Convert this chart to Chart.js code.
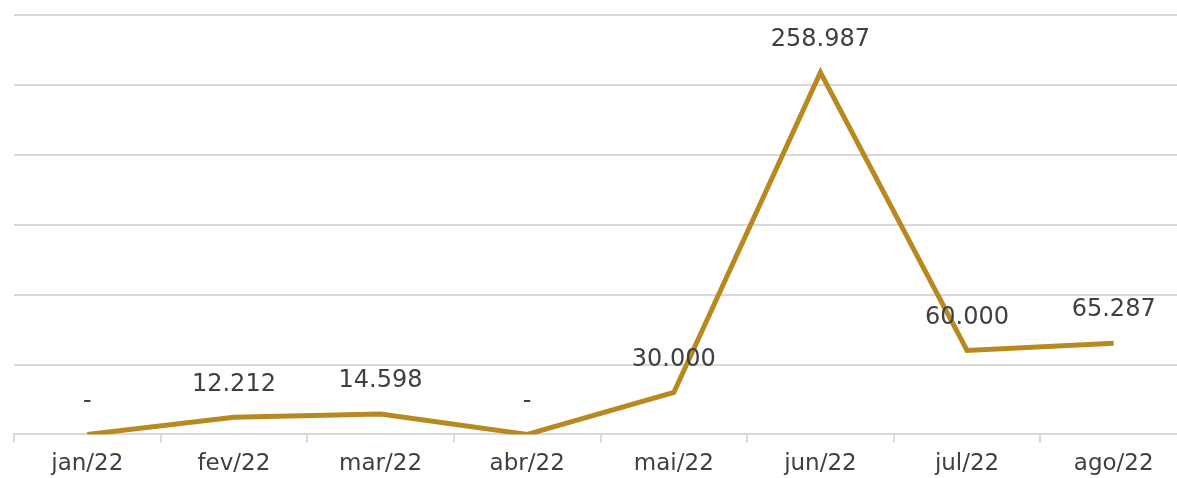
<!DOCTYPE html>
<html><head><meta charset="utf-8">
<script src="https://cdn.jsdelivr.net/npm/chart.js@4/dist/chart.umd.min.js"></script>
<style>
html,body{margin:0;padding:0;background:#fff;overflow:hidden;}
#wrap{position:relative;width:1187px;height:478px;}
</style></head><body>
<div id="wrap"><canvas id="c"></canvas></div>
<script>
const categories = ['jan/22','fev/22','mar/22','abr/22','mai/22','jun/22','jul/22','ago/22'];
const values = [0, 12212, 14598, 0, 30000, 258987, 60000, 65287];
const labels = ['-', '12.212', '14.598', '-', '30.000', '258.987', '60.000', '65.287'];

const labelPlugin = {
  id: 'valueLabels',
  afterDatasetsDraw(chart) {
    const ctx = chart.ctx;
    const meta = chart.getDatasetMeta(0);
    ctx.save();
    ctx.font = '24px "DejaVu Sans", sans-serif';
    ctx.fillStyle = '#404040';
    ctx.textAlign = 'center';
    ctx.textBaseline = 'middle';
    meta.data.forEach((pt, i) => {
      ctx.fillText(labels[i], pt.x, pt.y - 33);
    });
    ctx.restore();
  }
};

new Chart(document.getElementById('c'), {
  type: 'line',
  data: {
    labels: categories,
    datasets: [{
      data: values,
      borderColor: '#B8891F',
      borderWidth: 5,
      pointRadius: 0,
      tension: 0,
      fill: false
    }]
  },
  options: {
    responsive: true,
    maintainAspectRatio: false,
    animation: false,
    layout: { padding: { left: 14, right: 0, top: 15, bottom: -8 } },
    plugins: { legend: { display: false }, tooltip: { enabled: false } },
    scales: {
      x: {
        offset: true,
        grid: { offset: true, drawOnChartArea: false, drawTicks: true, tickLength: 8, color: '#d9d9d9', lineWidth: 2 },
        border: { display: true, color: '#d9d9d9', width: 2 },
        ticks: { color: '#404040', font: { family: '"DejaVu Sans", sans-serif', size: 23 }, padding: 8, maxRotation: 0 }
      },
      y: {
        min: 0, max: 300000,
        ticks: { display: false, stepSize: 50000 },
        grid: { drawTicks: false, color: '#d9d9d9', lineWidth: 2 },
        border: { display: false }
      }
    }
  },
  plugins: [labelPlugin]
});
</script>
</body></html>
